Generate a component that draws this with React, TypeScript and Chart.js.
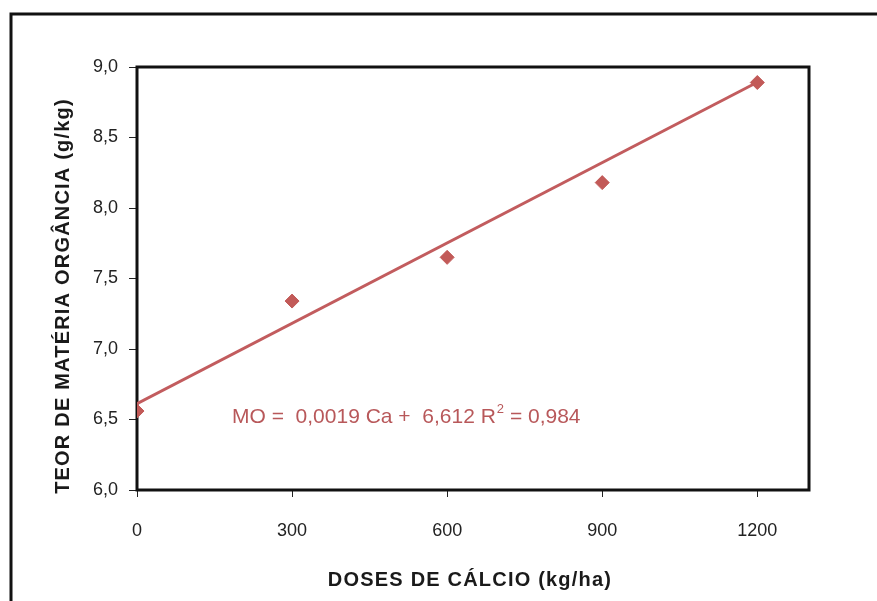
import React, { useEffect, useRef } from "react";
import { Chart, registerables } from "chart.js";

Chart.register(...registerables);

// Calcium doses (kg/ha) and measured organic matter (g/kg)
const DOSES = [0, 300, 600, 900, 1200];
const ORGANIC_MATTER = [6.56, 7.34, 7.65, 8.18, 8.89];

// Fitted linear model: MO = SLOPE * Ca + INTERCEPT
const SLOPE = 0.0019;
const INTERCEPT = 6.612;
const R_SQUARED = "0,984";

const X_TICKS = [0, 300, 600, 900, 1200];
const Y_TICKS = [6.0, 6.5, 7.0, 7.5, 8.0, 8.5, 9.0];

const X_TITLE = "DOSES DE CÁLCIO (kg/ha)";
const Y_TITLE = "TEOR DE MATÉRIA ORGÂNCIA (g/kg)";

const FONT = '"Liberation Sans", Arial, sans-serif';
const SERIES_COLOR = "#c25a58";
const LINE_COLOR = "#c25c5e";

const fmt = (v: number) => v.toFixed(1).replace(".", ",");

const decorPlugin = {
  id: "decor",
  beforeDraw(chart: any) {
    const { ctx, width, height } = chart;
    ctx.save();
    ctx.fillStyle = "#ffffff";
    ctx.fillRect(0, 0, width, height);
    // outer frame
    ctx.strokeStyle = "#111";
    ctx.lineWidth = 3;
    ctx.beginPath();
    ctx.moveTo(11, height + 5);
    ctx.lineTo(11, 14);
    ctx.lineTo(width + 5, 14);
    ctx.stroke();
    ctx.restore();
  },
  beforeDatasetsDraw(chart: any) {
    const { ctx, chartArea } = chart;
    ctx.save();
    ctx.strokeStyle = "#111";
    ctx.lineWidth = 3;
    ctx.strokeRect(
      chartArea.left,
      chartArea.top,
      chartArea.right - chartArea.left,
      chartArea.bottom - chartArea.top
    );
    ctx.restore();
  },
  afterDraw(chart: any) {
    const { ctx, chartArea } = chart;
    ctx.save();
    ctx.fillStyle = "#1a1a1a";
    ctx.font = `bold 20px ${FONT}`;
    (ctx as any).letterSpacing = "1.2px";
    ctx.textAlign = "center";
    ctx.textBaseline = "middle";
    ctx.fillText(X_TITLE, 470, 580);
    ctx.save();
    ctx.translate(63, 296);
    ctx.rotate(-Math.PI / 2);
    ctx.fillText(Y_TITLE, 0, 0);
    ctx.restore();
    (ctx as any).letterSpacing = "0px";

    // regression equation
    ctx.fillStyle = "#b8585a";
    ctx.textAlign = "left";
    ctx.textBaseline = "alphabetic";
    ctx.font = `21px ${FONT}`;
    const x0 = chartArea.left + 95;
    const base = 423;
    const part1 = `MO =  ${String(SLOPE).replace(".", ",")} Ca +  ${String(INTERCEPT).replace(".", ",")} R`;
    ctx.fillText(part1, x0, base);
    let x = x0 + ctx.measureText(part1).width;
    ctx.font = `13px ${FONT}`;
    ctx.fillText("2", x + 1, base - 10);
    x += ctx.measureText("2").width + 1;
    ctx.font = `21px ${FONT}`;
    ctx.fillText(` = ${R_SQUARED}`, x, base);
    ctx.restore();
  },
};

export default function App() {
  const ref = useRef<HTMLCanvasElement | null>(null);

  useEffect(() => {
    if (!ref.current) return;
    const trendX = [DOSES[0], DOSES[DOSES.length - 1]];
    const chart = new Chart(ref.current, {
      type: "scatter",
      data: {
        datasets: [
          {
            type: "line",
            data: trendX.map((x) => ({ x, y: SLOPE * x + INTERCEPT })),
            borderColor: LINE_COLOR,
            borderWidth: 3,
            pointRadius: 0,
            fill: false,
            order: 2,
          } as any,
          {
            type: "scatter",
            data: DOSES.map((x, i) => ({ x, y: ORGANIC_MATTER[i] })),
            pointStyle: "rectRot",
            pointRadius: 7,
            backgroundColor: SERIES_COLOR,
            borderColor: SERIES_COLOR,
            borderWidth: 1,
            order: 1,
          },
        ],
      },
      options: {
        responsive: false,
        animation: false,
        layout: { padding: { left: 0, right: 68, top: 67, bottom: 0 } },
        plugins: {
          legend: { display: false },
          tooltip: { enabled: false },
        },
        scales: {
          x: {
            type: "linear",
            min: 0,
            max: 1300,
            afterBuildTicks: (scale: any) => {
              scale.ticks = X_TICKS.map((value) => ({ value }));
            },
            afterFit: (scale: any) => {
              scale.height = 111;
            },
            border: { display: false },
            grid: {
              drawOnChartArea: false,
              drawTicks: true,
              tickLength: 7,
              color: "#222",
              lineWidth: 1,
            },
            ticks: {
              padding: 23,
              color: "#222",
              font: { family: FONT, size: 18 },
              maxRotation: 0,
              callback: (v: any) => String(v),
            },
          },
          y: {
            type: "linear",
            min: 6,
            max: 9,
            afterBuildTicks: (scale: any) => {
              scale.ticks = Y_TICKS.map((value) => ({ value }));
            },
            afterFit: (scale: any) => {
              scale.width = 137;
            },
            border: { display: false },
            grid: {
              drawOnChartArea: false,
              drawTicks: true,
              tickLength: 8,
              color: "#222",
              lineWidth: 1,
            },
            ticks: {
              padding: 11,
              color: "#222",
              font: { family: FONT, size: 18 },
              callback: (v: any) => fmt(Number(v)),
            },
          },
        },
      },
      plugins: [decorPlugin],
    });
    return () => chart.destroy();
  }, []);

  return (
    <div style={{ position: "fixed", left: 0, top: 0, width: 877, height: 601, background: "#fff" }}>
      <canvas ref={ref} width={877} height={601} style={{ display: "block" }} />
    </div>
  );
}
